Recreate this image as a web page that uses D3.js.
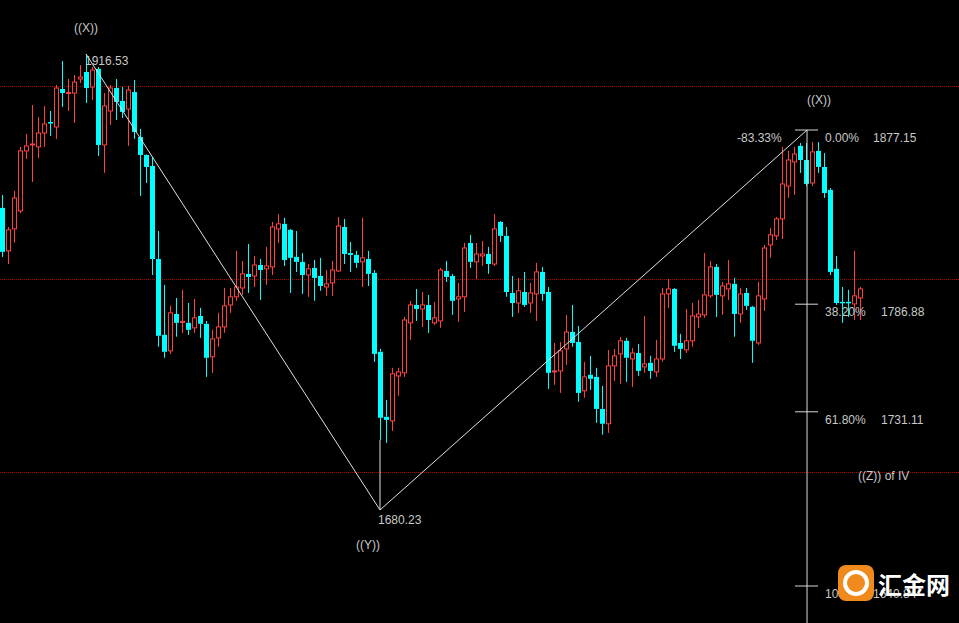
<!DOCTYPE html>
<html>
<head>
<meta charset="utf-8">
<script src="https://cdn.jsdelivr.net/npm/d3@7"></script>
<style>
  body { margin: 0; background: #000; }
  svg { display: block; }
</style>
</head>
<body>
<svg id="chart" width="959" height="623"></svg>
<script>
// candles: [open, high, low, close]
var candles = [
  [1836.8,1843.5,1811.4,1814.0],[1814.5,1826.9,1807.7,1825.4],[1825.9,1845.6,1818.8,1841.9],[1835.2,1868.4,1834.0,1866.3],
  [1866.3,1875.1,1862.1,1868.9],[1869.4,1890.1,1850.2,1869.9],[1868.4,1883.9,1862.6,1875.6],[1875.6,1889.6,1868.4,1880.3],
  [1881.3,1887.0,1874.1,1880.8],[1878.7,1900.5,1872.5,1898.9],[1898.4,1912.9,1889.1,1896.3],[1896.1,1903.6,1887.0,1896.6],
  [1896.3,1905.7,1880.8,1902.0],[1903.6,1910.8,1901.5,1904.6],[1907.2,1916.5,1891.1,1898.9],[1899.4,1909.8,1892.7,1908.2],
  [1908.8,1909.8,1863.7,1869.4],[1869.4,1896.3,1854.9,1889.6],[1887.0,1900.5,1879.8,1898.9],[1898.9,1903.6,1882.3,1891.7],
  [1892.2,1899.4,1883.4,1886.5],[1888.0,1900.0,1868.9,1897.9],[1896.8,1903.1,1872.5,1876.1],[1873.5,1877.7,1843.0,1864.2],
  [1864.2,1864.5,1849.7,1858.0],[1858.5,1863.2,1802.0,1810.3],[1810.3,1824.8,1764.8,1770.5],[1771.0,1796.9,1759.1,1762.2],
  [1762.7,1786.0,1761.0,1782.4],[1781.8,1790.1,1770.0,1777.2],[1777.4,1794.3,1772.0,1778.0],[1777.2,1787.5,1771.0,1773.6],
  [1774.6,1789.6,1772.0,1779.8],[1780.8,1785.0,1769.4,1776.7],[1776.7,1778.2,1749.2,1759.1],[1759.6,1773.6,1751.3,1768.9],
  [1769.4,1782.4,1764.8,1775.1],[1775.1,1795.3,1772.0,1786.0],[1786.5,1795.3,1782.4,1790.7],[1790.7,1814.5,1788.6,1795.8],
  [1795.3,1809.3,1791.7,1802.6],[1802.6,1818.1,1792.7,1801.0],[1801.5,1811.9,1795.8,1807.2],[1807.2,1810.3,1789.1,1804.6],
  [1805.2,1816.6,1796.9,1806.7],[1806.2,1829.5,1802.0,1826.9],[1825.9,1833.6,1818.6,1828.5],[1828.5,1831.6,1806.7,1809.8],
  [1825.4,1825.9,1792.7,1810.9],[1811.4,1824.8,1803.6,1808.8],[1808.8,1813.4,1792.2,1802.0],[1802.0,1807.7,1790.7,1805.2],
  [1805.7,1809.8,1788.6,1800.5],[1801.5,1810.9,1793.8,1796.3],[1795.8,1804.6,1791.2,1797.4],[1797.9,1809.3,1791.2,1804.6],
  [1804.1,1832.1,1803.6,1827.4],[1826.9,1831.1,1807.7,1812.9],[1813.4,1819.1,1803.6,1812.4],[1812.4,1814.5,1805.7,1808.3],
  [1808.8,1831.6,1795.8,1810.9],[1810.3,1814.5,1796.3,1802.6],[1803.1,1804.6,1757.0,1761.1],[1762.2,1763.7,1716.6,1728.0],
  [1728.5,1737.3,1715.0,1726.9],[1726.4,1753.9,1721.2,1750.8],[1749.7,1753.9,1739.4,1751.8],[1751.3,1780.3,1749.2,1778.7],
  [1777.2,1788.6,1768.4,1786.5],[1786.5,1794.8,1778.2,1784.4],[1784.4,1793.2,1775.1,1786.5],[1786.5,1791.7,1772.0,1778.7],
  [1777.2,1788.1,1776.1,1779.8],[1778.2,1805.7,1774.6,1804.6],[1804.1,1809.3,1798.4,1801.0],[1801.5,1802.6,1781.3,1788.6],
  [1789.6,1797.9,1777.7,1790.7],[1790.7,1818.6,1782.9,1816.0],[1818.6,1822.8,1805.7,1808.8],[1808.8,1818.6,1800.0,1812.9],
  [1811.9,1819.7,1806.7,1812.9],[1812.9,1816.6,1802.6,1807.7],[1807.7,1833.6,1806.7,1825.9],[1829.5,1830.0,1819.1,1822.3],
  [1822.3,1826.9,1790.7,1793.2],[1792.7,1801.5,1780.3,1787.5],[1787.5,1800.5,1782.4,1793.8],[1793.2,1803.6,1785.5,1786.5],
  [1787.5,1797.9,1782.4,1792.7],[1792.2,1808.3,1778.2,1803.6],[1803.6,1806.2,1788.6,1792.2],[1793.2,1795.8,1743.0,1751.3],
  [1751.8,1766.8,1745.1,1752.3],[1752.3,1767.3,1740.9,1762.7],[1763.7,1781.3,1755.4,1772.5],[1772.5,1786.5,1764.8,1766.8],
  [1767.3,1775.6,1736.3,1740.9],[1742.0,1757.0,1738.4,1749.2],[1750.3,1760.1,1742.5,1748.2],[1749.2,1753.9,1725.4,1732.6],
  [1732.6,1744.5,1719.2,1724.9],[1724.9,1763.2,1720.2,1754.9],[1754.9,1763.7,1747.1,1760.1],[1761.1,1769.9,1745.6,1767.9],
  [1767.9,1769.4,1746.6,1759.1],[1758.5,1764.2,1744.0,1761.6],[1761.6,1766.3,1749.7,1752.3],[1754.4,1780.8,1751.3,1755.9],
  [1756.5,1760.1,1748.2,1752.3],[1751.8,1768.4,1749.2,1758.5],[1758.5,1795.3,1757.0,1792.2],[1792.2,1800.0,1784.9,1794.8],
  [1794.8,1795.3,1762.2,1765.3],[1766.8,1771.5,1758.5,1763.7],[1763.2,1784.4,1761.6,1767.9],[1767.9,1787.5,1764.8,1780.8],
  [1780.3,1789.1,1774.6,1781.8],[1781.3,1813.4,1779.8,1791.7],[1791.2,1809.3,1790.1,1806.2],[1806.2,1807.7,1780.3,1791.7],
  [1791.2,1798.4,1781.3,1796.3],[1794.8,1809.8,1789.1,1797.4],[1797.4,1800.5,1770.0,1781.8],[1781.8,1795.3,1777.2,1792.2],
  [1792.7,1795.3,1783.9,1786.0],[1785.5,1786.0,1756.5,1767.9],[1766.8,1798.4,1765.8,1791.2],[1789.6,1817.6,1783.4,1816.0],
  [1817.6,1826.4,1810.9,1822.8],[1822.3,1832.1,1820.2,1831.1],[1831.1,1868.4,1820.7,1849.2],[1848.1,1866.3,1841.9,1861.6],
  [1860.6,1868.4,1843.5,1864.7],[1868.9,1870.4,1854.9,1861.6],[1861.6,1870.4,1848.1,1849.2],[1849.7,1870.9,1848.1,1865.8],
  [1866.3,1870.9,1854.9,1858.0],[1858.0,1865.2,1841.9,1844.5],[1846.1,1847.1,1802.0,1803.6],[1805.2,1811.9,1786.5,1787.5],
  [1788.1,1795.8,1777.2,1787.5],[1788.1,1794.3,1780.3,1787.8],[1787.0,1814.5,1778.7,1791.2],[1790.1,1795.8,1778.7,1794.8]
];
var gridLevels = [1900, 1800, 1700];
// zigzag wave points: [candle index, price]
var wavePoints = [[14, 1916.53], [63, 1680.23], [134.17, 1877.15]];
var fibLevels = [
  { pct: "0.00%", price: 1877.15 },
  { pct: "38.20%", price: 1786.88 },
  { pct: "61.80%", price: 1731.11 },
  { pct: "100.00%", price: 1640.84 }
];

var svg = d3.select("#chart");
var x = d3.scaleLinear().domain([0, 143]).range([2, 860]);
var y = d3.scaleLinear().domain([1640.84, 1877.15]).range([586, 130]);
var txt = "#c8c8c8";
var font = "'Liberation Sans', Arial, sans-serif";

svg.append("rect").attr("width", 959).attr("height", 623).attr("fill", "#000");

// red dotted levels
svg.selectAll(".grid").data(gridLevels).enter().append("line")
    .attr("x1", 0).attr("x2", 959)
    .attr("y1", function(d) { return Math.round(y(d)) + 0.5; })
    .attr("y2", function(d) { return Math.round(y(d)) + 0.5; })
    .attr("stroke", "#b00000")
    .attr("stroke-dasharray", "1,1");

// candles
var g = svg.append("g");
candles.forEach(function(c, i) {
    var cx = Math.round(x(i)) + 0.5;
    var up = c[3] >= c[0];
    var col = up ? "#ff4040" : "#00ffff";
    var top = y(Math.max(c[0], c[3])), bot = y(Math.min(c[0], c[3]));
    g.append("line").attr("x1", cx).attr("x2", cx)
        .attr("y1", y(c[1])).attr("y2", top).attr("stroke", col);
    g.append("line").attr("x1", cx).attr("x2", cx)
        .attr("y1", bot).attr("y2", y(c[2])).attr("stroke", col);
    if (up) {
        g.append("rect").attr("x", cx - 2).attr("y", top)
            .attr("width", 4).attr("height", Math.max(bot - top, 1))
            .attr("fill", "none").attr("stroke", col);
    } else {
        g.append("rect").attr("x", cx - 2.5).attr("y", top)
            .attr("width", 5).attr("height", Math.max(bot - top, 1.5))
            .attr("fill", col);
    }
});

// wave line
svg.append("path")
    .attr("d", d3.line().x(function(d) { return x(d[0]); }).y(function(d) { return y(d[1]); })(wavePoints))
    .attr("fill", "none").attr("stroke", "#e0e0e0").attr("stroke-width", 1);
svg.append("line").attr("x1", x(63)).attr("x2", x(63))
    .attr("y1", y(1680.23)).attr("y2", y(1716.6)).attr("stroke", "#e0e0e0");

// fib retracement
var fx = x(134.17);
svg.append("line").attr("x1", fx).attr("x2", fx).attr("y1", y(1877.15)).attr("y2", 623)
    .attr("stroke", "#d8d8d8");
svg.selectAll(".fibtick").data(fibLevels).enter().append("line")
    .attr("x1", fx - 12).attr("x2", fx + 11)
    .attr("y1", function(d) { return y(d.price); })
    .attr("y2", function(d) { return y(d.price); })
    .attr("stroke", "#d8d8d8");
svg.selectAll(".fibpct").data(fibLevels).enter().append("text")
    .attr("x", fx + 18).attr("y", function(d) { return y(d.price) + 12; })
    .attr("fill", txt).style("font-family", font).style("font-size", "12px")
    .text(function(d) { return d.pct; });
svg.selectAll(".fibprice").data(fibLevels).enter().append("text")
    .attr("x", function(d, i) { return i === 0 || i === 3 ? fx + 66 : fx + 74; })
    .attr("y", function(d) { return y(d.price) + 12; })
    .attr("fill", txt).style("font-family", font).style("font-size", "12px")
    .text(function(d) { return d.price.toFixed(2); });

function label(t, lx, ly, anchor) {
    svg.append("text").attr("x", lx).attr("y", ly).attr("text-anchor", anchor || "start")
        .attr("fill", txt).style("font-family", font).style("font-size", "12px").text(t);
}
label("((X))", 86, 32, "middle");
label("1916.53", 85, 65);
label("1680.23", 378, 524);
label("((Y))", 368, 549, "middle");
label("((X))", 819, 104, "middle");
label("-83.33%", 737, 142);
label("((Z)) of IV", 858, 480);

// logo
var logo = svg.append("g");
logo.append("rect").attr("x", 838).attr("y", 565).attr("width", 36).attr("height", 36)
    .attr("rx", 8).attr("fill", "#f08a1c");
logo.append("circle").attr("cx", 856).attr("cy", 583).attr("r", 11)
    .attr("fill", "none").attr("stroke", "#fff").attr("stroke-width", 4);
logo.append("text").attr("x", 878).attr("y", 594).attr("fill", "#fff")
    .style("font-family", "'Noto Sans CJK SC', sans-serif").style("font-size", "24px")
    .style("font-weight", "bold").text("汇金网");
</script>
</body>
</html>
